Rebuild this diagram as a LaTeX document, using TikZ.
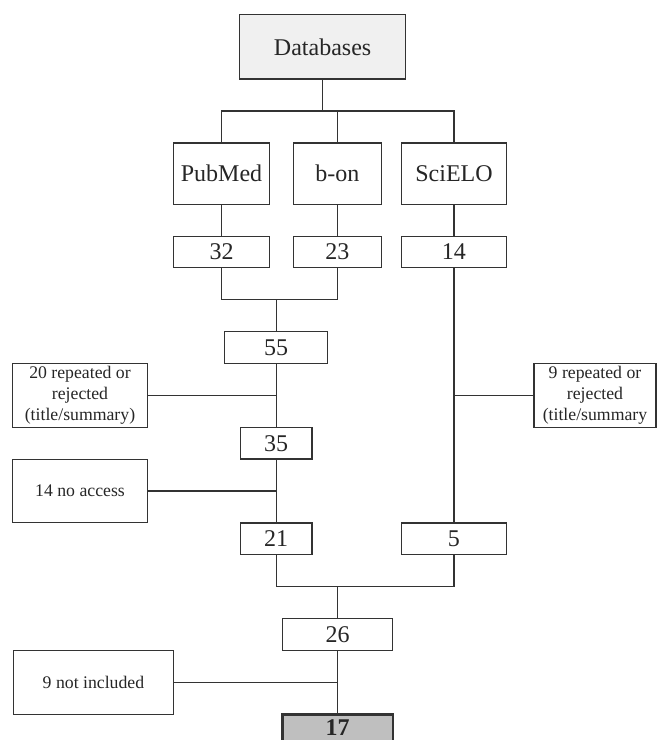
\documentclass[tikz,border=0pt]{standalone}
\usepackage{fontspec}
\setmainfont{Liberation Serif}
\usetikzlibrary{positioning, calc}

\begin{document}
\begin{tikzpicture}[-, node distance=48pt,
		box/.style={draw=black!80, line width=0.9pt, inner sep=0pt, outer sep=0pt, text=black!85, font=\fontsize{18}{21}\selectfont},
		numbox/.style={box, minimum height=23.7pt},
		srcbox/.style={box, minimum height=46pt},
		sidebox/.style={box, minimum height=48pt, align=center, font=\fontsize{13.3}{15.75}\selectfont},
		link/.style={draw=black!80, line width=0.9pt}]
			\useasboundingbox (-241.95pt,35.1pt) rectangle (250.8pt,-519.9pt);
			\clip (-241.95pt,35.1pt) rectangle (250.8pt,-519.9pt);
			\node[box, fill=black!6, minimum width=124.5pt, minimum height=48.2pt] (db) at (0,0) {Databases};
			\node[srcbox, minimum width=65.8pt, below=of db, xshift=11pt] (bon) {b-on};
			\node[srcbox, minimum width=71.8pt, left=18pt of bon] (pub) {PubMed};
			\node[srcbox, minimum width=79.3pt, right=15pt of bon] (sci) {SciELO};
			\node[numbox, minimum width=71.8pt, below=24pt of pub] (n32) {32};
			\node[numbox, minimum width=65.8pt, below=24pt of bon] (n23) {23};
			\node[numbox, minimum width=79.3pt, below=24pt of sci] (n14) {14};
			\node[numbox, minimum width=77.5pt, below=of n32, xshift=41pt] (n55) {55};
			\node[numbox, minimum width=53.8pt, below=of n55] (n35) {35};
			\node[numbox, minimum width=53.8pt, below=of n35] (n21) {21};
			\node[numbox, minimum width=79.3pt, right=66.8pt of n21] (n5) {5};
			\node[numbox, minimum width=82pt, below=of n21, xshift=46pt] (n26) {26};
			\node[numbox, minimum width=83pt, minimum height=20pt, below=of n26, line width=2pt, fill=black!25, font=\fontsize{18}{21}\selectfont\bfseries] (n17) {17};
			\coordinate (bus) at ($(db.south)!0.5!(db.south |- bon.north)$);
			\coordinate (j0) at ($(n55.north)!0.5!(n55.north |- n32.south)$);
			\coordinate (j1) at ($(n55.south)!0.5!(n35.north)$);
			\coordinate (j2) at ($(n35.south)!0.5!(n21.north)$);
			\coordinate (j3) at ($(n26.north)!0.5!(n26.north |- n21.south)$);
			\coordinate (j4) at ($(n26.south)!0.5!(n17.north)$);
			\coordinate (j5) at (j1 -| n14);
			\node[sidebox, minimum width=101.3pt, left=96.5pt of j1] (rej20) {20 repeated or\\rejected\\(title/summary)};
			\node[sidebox, minimum width=101.3pt, minimum height=47pt, left=96.5pt of j2] (acc14) {14 no access};
			\node[sidebox, minimum width=91.5pt, right=60pt of j5] (rej9) {9 repeated or\\rejected\\(title/summary};
			\node[sidebox, minimum width=120.5pt, left=122.8pt of j4] (inc9) {9 not included};
			\draw[link] (db.south) -- (bus) ;
			\draw[link] (pub.north) |- (bus) -| (sci.north) ;
			\draw[link] (bon.north) |- (bus) ;
			\draw[link] (pub) -- (n32) ;
			\draw[link] (bon) -- (n23) ;
			\draw[link] (sci) -- (n14) ;
			\draw[link] (n32.south) |- (j0) -| (n23.south) ;
			\draw[link] (j0) -- (n55) ;
			\draw[link] (n55) -- (n35) ;
			\draw[link] (n35) -- (n21) ;
			\draw[link] (n14) -- (n14 |- n5.north) ;
			\draw[link] (rej20) -- (j1) ;
			\draw[link] (acc14) -- (j2) ;
			\draw[link] (rej9) -- (j5) ;
			\draw[link] (n21.south) |- (j3) -| (n5.south) ;
			\draw[link] (j3) -- (n26) ;
			\draw[link] (n26) -- (n17) ;
			\draw[link] (inc9) -- (j4) ;
		\end{tikzpicture}
\end{document}
